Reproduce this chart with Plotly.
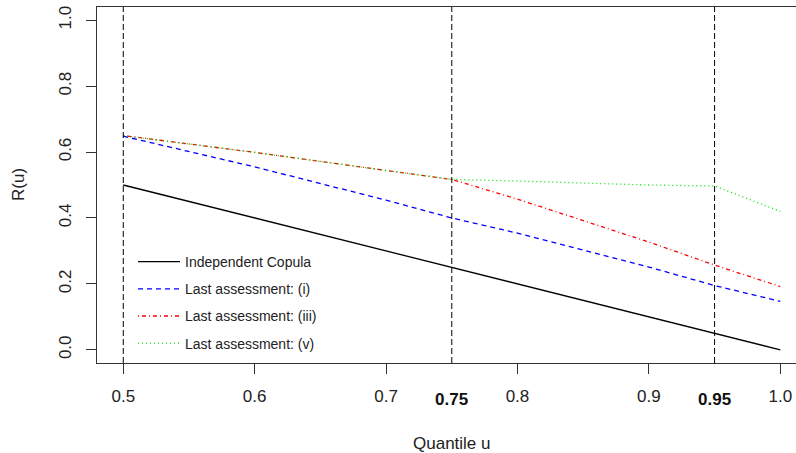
import plotly.graph_objects as go

# ---- data ----
u = [0.5, 0.6, 0.7, 0.75, 0.8, 0.85, 0.9, 0.95, 1.0]
indep = [0.50, 0.40, 0.30, 0.25, 0.20, 0.15, 0.10, 0.05, 0.00]
last_i = [0.648, 0.555, 0.454, 0.400, 0.354, 0.302, 0.251, 0.195, 0.147]
last_iii = [0.650, 0.599, 0.544, 0.517, 0.457, 0.392, 0.327, 0.257, 0.192]
last_v = [0.650, 0.599, 0.544, 0.517, 0.512, 0.506, 0.500, 0.497, 0.420]

x_ticks = [0.5, 0.6, 0.7, 0.8, 0.9, 1.0]
x_tick_text = ["0.5", "0.6", "0.7", "0.8", "0.9", "1.0"]
y_ticks = [0.0, 0.2, 0.4, 0.6, 0.8, 1.0]
y_tick_text = ["0.0", "0.2", "0.4", "0.6", "0.8", "1.0"]
marked_u = [0.5, 0.75, 0.95]
bold_labels = [(0.75, "0.75"), (0.95, "0.95")]

names = ["Independent Copula", "Last assessment: (i)",
         "Last assessment: (iii)", "Last assessment: (v)"]
series = [indep, last_i, last_iii, last_v]
colors = ["#000000", "#0000ff", "#ff0000", "#00e000"]
dashes = ["solid", "5px,4px", "1px,3px,4px,3px", "1px,3px"]

FONT = "Liberation Sans, Arial, sans-serif"

fig = go.Figure()
for i, (nm, ys, c, d) in enumerate(zip(names, series, colors, dashes)):
    fig.add_trace(go.Scatter(
        x=u, y=ys, mode="lines", name=nm, legendgroup=f"g{i}",
        line=dict(color=c, width=1.3, dash=d),
    ))

for v in marked_u:
    fig.add_shape(type="line", x0=v, x1=v, xref="x", y0=0, y1=1, yref="paper",
                  line=dict(color="#000000", width=1, dash="6px,3px"))

for v, t in bold_labels:
    fig.add_annotation(x=v, xref="x", y=0, yref="paper", yshift=-36,
                       yanchor="middle", xanchor="center", text=f"<b>{t}</b>",
                       showarrow=False, font=dict(size=17, color="#111", family=FONT))

fig.add_annotation(x=0.75, xref="x", y=0, yref="paper", yshift=-80,
                   yanchor="middle", xanchor="center", text="Quantile u",
                   showarrow=False, font=dict(size=17, color="#222", family=FONT))
fig.add_annotation(x=-79 / 699, xref="paper", y=0.5, yref="y", textangle=-90,
                   yanchor="middle", xanchor="center", text="R(u)",
                   showarrow=False, font=dict(size=17, color="#222", family=FONT))

fig.update_layout(
    width=796, height=453,
    margin=dict(l=97, r=0, t=7, b=90),
    paper_bgcolor="white", plot_bgcolor="white",
    font=dict(family=FONT, size=17, color="#222"),
    showlegend=True,
    legend=dict(x=(133 - 97) / 699, y=(363 - 246) / 356, xanchor="left", yanchor="top",
                bgcolor="rgba(0,0,0,0)", font=dict(size=14, family=FONT, color="#222"),
                traceorder="grouped", tracegroupgap=6, itemwidth=42),
    xaxis=dict(range=[0.48, 0.48 + 699 / 1314], tickvals=x_ticks, ticktext=x_tick_text,
               ticks="outside", ticklen=10, tickcolor="#333", showline=True,
               linecolor="#333", linewidth=1, mirror=True, showgrid=False,
               zeroline=False, ticklabelstandoff=8,
               tickfont=dict(size=17, family=FONT, color="#222")),
    yaxis=dict(range=[-0.04, 1.04], tickvals=y_ticks, ticktext=y_tick_text,
               ticks="outside", ticklen=10, tickcolor="#333", showline=True,
               linecolor="#333", linewidth=1, showgrid=False, zeroline=False,
               tickangle=-90, ticklabelstandoff=8,
               tickfont=dict(size=17, family=FONT, color="#222")),
)

fig.write_html("out.html")
